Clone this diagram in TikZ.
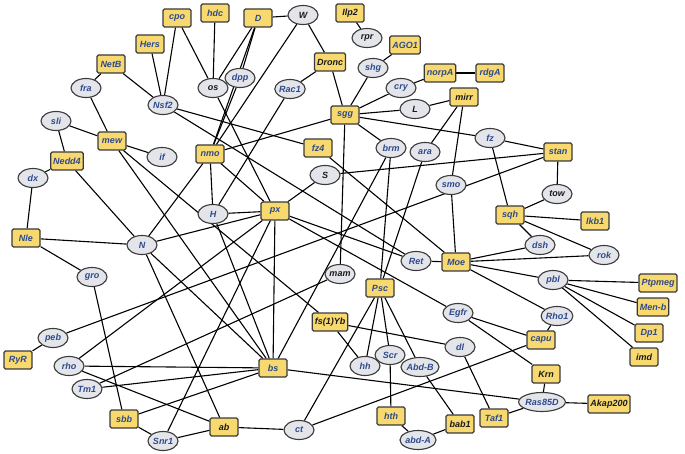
\documentclass[tikz,border=0pt]{standalone}
\usepackage{fontspec}
\setmainfont{Liberation Sans}
\usetikzlibrary{shapes.geometric}
\definecolor{ybox}{HTML}{F7D96F}
\definecolor{gfill}{HTML}{E3E5EA}
\definecolor{bdr}{HTML}{3A3A3A}
\definecolor{tblue}{HTML}{2E4A8C}
\definecolor{tblack}{HTML}{1A1A1A}
\pgfdeclarelayer{bg}
\pgfsetlayers{bg,main}
\tikzset{
  lbl/.style={font=\fontsize{9}{10}\selectfont\bfseries\itshape},
  gbox/.style={lbl, draw=bdr, fill=ybox, rounded corners=1.5pt, line width=1.1pt, minimum height=18pt, minimum width=28pt, inner xsep=2.5pt, inner ysep=0pt},
  gell/.style={lbl, ellipse, draw=bdr, fill=gfill, line width=1.1pt, minimum height=19pt, minimum width=30pt, inner xsep=0pt, inner ysep=0pt},
  bt/.style={text=tblue},
  kt/.style={text=tblack},
  edge/.style={draw=black, line width=1.1pt}
}
\begin{document}
\begin{tikzpicture}[x=1pt,y=-1pt]
\useasboundingbox (0,0) rectangle (685,454);
% rect nodes
\node[gbox,bt] (cpo) at (177,18) {cpo};
\node[gbox,bt] (hdc) at (215,13) {hdc};
\node[gbox,bt] (D) at (258,18) {D};
\node[gbox,kt] (Ilp2) at (350,13) {Ilp2};
\node[gbox,bt] (AGO1) at (405,45) {AGO1};
\node[gbox,bt] (Hers) at (150,44) {Hers};
\node[gbox,bt] (NetB) at (111,64) {NetB};
\node[gbox,kt] (Dronc) at (330,62) {Dronc};
\node[gbox,bt] (norpA) at (440,73) {norpA};
\node[gbox,bt] (rdgA) at (490,73) {rdgA};
\node[gbox,kt] (mirr) at (464,97) {mirr};
\node[gbox,bt] (sgg) at (345,115) {sgg};
\node[gbox,bt] (mew) at (112,141) {mew};
\node[gbox,bt] (nmo) at (210,154) {nmo};
\node[gbox,bt] (fz4) at (318,148) {fz4};
\node[gbox,bt] (stan) at (558,152) {stan};
\node[gbox,bt] (Nedd4) at (67,161) {Nedd4};
\node[gbox,bt] (px) at (275,211) {px};
\node[gbox,bt] (sqh) at (510,215) {sqh};
\node[gbox,bt] (lkb1) at (595,221) {lkb1};
\node[gbox,bt] (Nle) at (26,238) {Nle};
\node[gbox,bt] (Moe) at (456,262) {Moe};
\node[gbox,bt] (Ptpmeg) at (658,283) {Ptpmeg};
\node[gbox,bt] (Psc) at (380,288) {Psc};
\node[gbox,bt] (Menb) at (653,307) {Men-b};
\node[gbox,kt] (fsYb) at (330,322) {fs(1)Yb};
\node[gbox,bt] (Dp1) at (649,333) {Dp1};
\node[gbox,bt] (capu) at (541,340) {capu};
\node[gbox,kt] (imd) at (644,357) {imd};
\node[gbox,bt] (RyR) at (18,360) {RyR};
\node[gbox,bt] (bs) at (273,368) {bs};
\node[gbox,kt] (Krn) at (546,374) {Krn};
\node[gbox,kt] (Akap200) at (609,404) {Akap200};
\node[gbox,bt] (sbb) at (124,419) {sbb};
\node[gbox,bt] (hth) at (391,416) {hth};
\node[gbox,kt] (bab1) at (460,424) {bab1};
\node[gbox,bt] (Taf1) at (494,418) {Taf1};
\node[gbox,kt] (ab) at (224,427) {ab};
% ellipse nodes
\node[gell,kt] (W) at (303,15) {W};
\node[gell,kt] (rpr) at (367,38) {rpr};
\node[gell,bt] (fra) at (86,88) {fra};
\node[gell,bt] (Nsf2) at (163,105) {Nsf2};
\node[gell,kt] (os) at (213,88) {os};
\node[gell,bt] (dpp) at (240,78) {dpp};
\node[gell,bt] (Rac1) at (290,89) {Rac1};
\node[gell,bt] (shg) at (373,68) {shg};
\node[gell,bt] (cry) at (401,88) {cry};
\node[gell,kt] (L) at (415,109) {L};
\node[gell,bt] (sli) at (56,121) {sli};
\node[gell,bt] (if) at (162,157) {if};
\node[gell,bt] (brm) at (391,148) {brm};
\node[gell,bt] (ara) at (425,152) {ara};
\node[gell,bt] (fz) at (490,138) {fz};
\node[gell,bt] (dx) at (33,178) {dx};
\node[gell,kt] (S) at (325,175) {S};
\node[gell,bt] (smo) at (451,185) {smo};
\node[gell,kt] (tow) at (557,194) {tow};
\node[gell,bt] (H) at (213,214) {H};
\node[gell,bt] (N) at (142,245) {N};
\node[gell,bt] (dsh) at (540,245) {dsh};
\node[gell,bt] (rok) at (604,255) {rok};
\node[gell,bt] (Ret) at (416,261) {Ret};
\node[gell,bt] (pbl) at (553,280) {pbl};
\node[gell,bt] (gro) at (92,277) {gro};
\node[gell,kt] (mam) at (340,274) {mam};
\node[gell,bt] (Egfr) at (458,313) {Egfr};
\node[gell,bt] (peb) at (53,338) {peb};
\node[gell,bt] (Rho1) at (557,316) {Rho1};
\node[gell,bt] (rho) at (69,366) {rho};
\node[gell,bt] (hh) at (365,366) {hh};
\node[gell,bt] (Scr) at (390,355) {Scr};
\node[gell,bt] (dl) at (460,347) {dl};
\node[gell,bt] (AbdB) at (420,367) {Abd-B};
\node[gell,bt] (Tm1) at (87,389) {Tm1};
\node[gell,bt] (Ras85D) at (542,402) {Ras85D};
\node[gell,bt] (ct) at (299,430) {ct};
\node[gell,bt] (Snr1) at (163,441) {Snr1};
\node[gell,bt] (abdA) at (418,440) {abd-A};
\begin{pgfonlayer}{bg}
\foreach \a/\b in {cpo/Nsf2,cpo/os,hdc/os,Hers/Nsf2,NetB/Nsf2,NetB/fra,fra/mew,sli/mew,sli/Nedd4,dx/Nedd4,dx/Nle,Nle/N,Nle/gro,Nedd4/N,mew/if,
 D/W,D/os,D/dpp,D/nmo,dpp/nmo,W/Dronc,W/nmo,Rac1/Dronc,Rac1/H,os/px,Ilp2/rpr,Dronc/sgg,AGO1/shg,shg/sgg,cry/sgg,cry/norpA,norpA/rdgA,L/sgg,L/mirr,
 sgg/nmo,sgg/fz,sgg/brm,sgg/mam,mirr/ara,mirr/smo,fz/stan,fz/sqh,Nsf2/fz4,Nsf2/Ret,fz4/Moe,nmo/px,nmo/H,nmo/N,px/S,px/H,px/N,px/Ret,px/Egfr,px/bs,px/rho,px/Snr1,
 S/stan,stan/tow,stan/peb,tow/sqh,sqh/lkb1,sqh/dsh,sqh/rok,dsh/Moe,rok/Moe,Moe/Ret,Moe/smo,Moe/pbl,Moe/Rho1,pbl/Ptpmeg,pbl/Menb,pbl/Dp1,pbl/imd,
 Rho1/capu,capu/Egfr,Egfr/Krn,Krn/Ras85D,Ras85D/Akap200,Ras85D/Taf1,Taf1/dl,Psc/hh,Psc/Scr,Psc/AbdB,Psc/brm,Psc/ara,Scr/hth,hth/abdA,abdA/bab1,bab1/AbdB,
 gro/sbb,sbb/Snr1,sbb/bs,ab/ct,ab/Snr1,rho/ab,RyR/peb,rho/bs,Tm1/bs,Tm1/mam,bs/Ras85D,bs/brm,fsYb/hh,fsYb/dl,mew/bs,mew/fsYb,N/bs,H/bs,ab/N,ct/Psc,ct/capu}
 \draw[edge] (\a) -- (\b);
\end{pgfonlayer}
\end{tikzpicture}
\end{document}
